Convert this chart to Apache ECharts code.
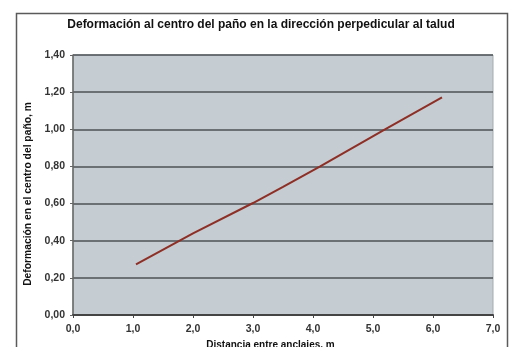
<!DOCTYPE html>
<html>
<head>
<meta charset="utf-8">
<script src="https://cdn.jsdelivr.net/npm/echarts@6/dist/echarts.min.js"></script>
<style>
  html, body { margin: 0; padding: 0; background: #ffffff; }
  #chart { width: 512px; height: 347px; }
</style>
</head>
<body>
<div id="chart"></div>
<script>
// Distance between anchors (m) and deformation at the panel centre (m)
const distancias = [1.05, 2.0, 3.0, 3.5, 4.12, 5.2, 6.15];
const deformaciones = [0.273, 0.44, 0.603, 0.69, 0.8, 1.0, 1.172];

const titulo = 'Deformación al centro del paño en la dirección perpedicular al talud';
const tituloY = 'Deformación en el centro del paño, m';
const tituloX = 'Distancia entre anclajes, m';

const fuente = '"Liberation Sans", Arial, sans-serif';

const chart = echarts.init(document.getElementById('chart'), null, { renderer: 'canvas' });

chart.setOption({
  backgroundColor: '#ffffff',
  animation: false,
  title: {
    text: titulo,
    left: 256,
    textAlign: 'center',
    top: 14,
    textStyle: { fontFamily: fuente, fontWeight: 'bold', fontSize: 12, color: '#111' }
  },
  graphic: [{
    type: 'rect',
    shape: { x: 16.5, y: 13.5, width: 491, height: 360 },
    style: { fill: 'none', stroke: '#5a5a5a', lineWidth: 1.5 },
    silent: true
  }],
  grid: {
    left: 73, top: 55, width: 420, height: 260,
    outerBoundsMode: 'none',
    containLabel: false,
    show: true,
    backgroundColor: '#c5ccd2',
    borderColor: '#a3abb1',
    borderWidth: 1
  },
  xAxis: {
    type: 'value',
    min: 0, max: 7, interval: 1,
    name: tituloX,
    nameLocation: 'middle',
    nameGap: 25,
    nameTextStyle: { fontFamily: fuente, fontWeight: 'bold', fontSize: 10, color: '#111', padding: [0, 0, 0, -25] },
    axisLine: { show: true, onZero: false, lineStyle: { color: '#444', width: 2 } },
    axisTick: { show: true, length: 3, lineStyle: { color: '#444', width: 1 } },
    axisLabel: {
      fontFamily: fuente, fontWeight: 'bold', fontSize: 10.5, color: '#333', margin: 9,
      formatter: v => v.toFixed(1).replace('.', ',')
    },
    splitLine: { show: false }
  },
  yAxis: {
    type: 'value',
    min: 0, max: 1.4, interval: 0.2,
    name: tituloY,
    nameLocation: 'middle',
    nameGap: 31,
    nameRotate: 90,
    nameTextStyle: { fontFamily: fuente, fontWeight: 'bold', fontSize: 10.3, color: '#111', padding: [0, 18, 0, 0] },
    axisLine: { show: true, lineStyle: { color: '#666', width: 1.5 } },
    axisTick: { show: true, length: 3, lineStyle: { color: '#666', width: 1 } },
    axisLabel: {
      fontFamily: fuente, fontWeight: 'bold', fontSize: 10.5, color: '#333', margin: 8,
      formatter: v => v.toFixed(2).replace('.', ',')
    },
    splitLine: { show: true, lineStyle: { color: '#4c5256', width: 1.5 } }
  },
  series: [{
    type: 'line',
    data: distancias.map((x, i) => [x, deformaciones[i]]),
    showSymbol: false,
    lineStyle: { color: '#8e2f26', width: 2 },
    z: 5
  }]
});
</script>
</body>
</html>
